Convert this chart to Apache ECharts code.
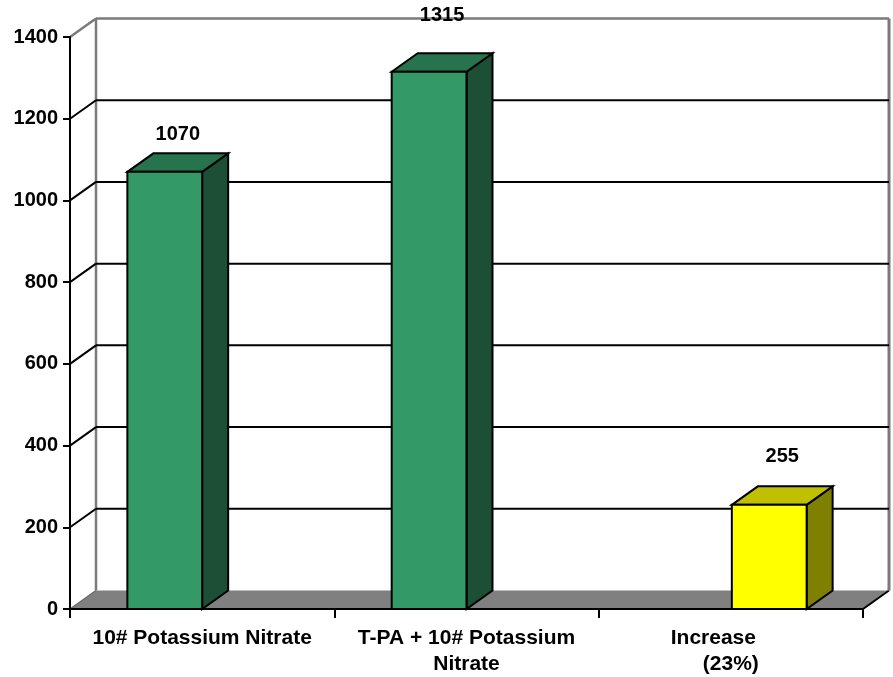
<!DOCTYPE html>
<html>
<head>
<meta charset="utf-8">
<script src="https://cdn.jsdelivr.net/npm/echarts@6/dist/echarts.min.js"></script>
<style>
html,body{margin:0;padding:0;background:#fff;}
#chart{width:893px;height:677px;}
</style>
</head>
<body>
<div id="chart"></div>
<script>
// ---------- data ----------
var categories = ['10# Potassium Nitrate', 'T-PA + 10# Potassium\nNitrate', 'Increase      \n(23%)'];
var yieldValues = [1070, 1315, null];     // green series
var increaseValues = [null, null, 255];   // yellow series
var yTicks = [0, 200, 400, 600, 800, 1000, 1200, 1400];

// ---------- layout / style ----------
var DX = 26, DY = -18.5;          // depth offset of the 3D effect (px)
var BAR_FRAC = 0.283;             // bar width as a fraction of category band
var LABEL_LIFT = [19, 38, 30];    // label distance above back top edge, per category
var FONT = '"Liberation Sans", Arial, sans-serif';

var chart = echarts.init(document.getElementById('chart'), null, {renderer: 'canvas'});

function wallItem(params, api) {
  var cs = params.coordSys;
  var x0 = cs.x, x1 = cs.x + cs.width, yT = cs.y, yB = cs.y + cs.height;
  var children = [];
  // floor
  children.push({type: 'polygon', shape: {points: [[x0, yB], [x0 + DX, yB + DY], [x1 + DX, yB + DY], [x1, yB]]},
    style: {fill: '#808080', stroke: null}});
  children.push({type: 'line', shape: {x1: x0, y1: yB, x2: x0 + DX, y2: yB + DY}, style: {stroke: '#6a6a6a', lineWidth: 1.5}});
  children.push({type: 'line', shape: {x1: x1, y1: yB, x2: x1 + DX, y2: yB + DY}, style: {stroke: '#000', lineWidth: 2}});
  // wall sides
  children.push({type: 'line', shape: {x1: x0 + DX, y1: yT + DY, x2: x0 + DX, y2: yB + DY}, style: {stroke: '#7a7a7a', lineWidth: 2.5}});
  children.push({type: 'line', shape: {x1: x1 + DX, y1: yT + DY, x2: x1 + DX, y2: yB + DY}, style: {stroke: '#7a7a7a', lineWidth: 3}});
  var maxV = yTicks[yTicks.length - 1];
  for (var i = 0; i < yTicks.length; i++) {
    var v = yTicks[i];
    if (v === 0) continue;
    var y = api.coord([0, v])[1];
    var top = v === maxV;
    var col = top ? '#7a7a7a' : '#000';
    var lw = top ? 2.5 : 2;
    children.push({type: 'line', shape: {x1: x0 + DX, y1: y + DY, x2: x1 + DX, y2: y + DY}, style: {stroke: col, lineWidth: lw}});
    children.push({type: 'line', shape: {x1: x0, y1: y, x2: x0 + DX, y2: y + DY}, style: {stroke: col, lineWidth: lw}});
  }
  return {type: 'group', children: children};
}

function barRenderer(offsetBars, colors) {
  return function (params, api) {
    var idx = api.value(0);
    var val = api.value(1);
    if (val == null || isNaN(val)) return null;
    var band = api.size([1, 0])[0];
    var center = api.coord([idx, 0])[0];
    var yBase = api.coord([idx, 0])[1];
    var yTop = api.coord([idx, val])[1];
    var w = band * BAR_FRAC;
    var xa = center + offsetBars * w + (offsetBars >= 0 ? 1 : 0);
    var xb = xa + w;
    var st = {stroke: '#000', lineWidth: 2, lineJoin: 'miter'};
    var lift = LABEL_LIFT[idx] || 25;
    return {type: 'group', children: [
      {type: 'polygon', shape: {points: [[xb, yTop], [xb + DX, yTop + DY], [xb + DX, yBase + DY], [xb, yBase]]},
        style: Object.assign({fill: colors[2]}, st)},
      {type: 'polygon', shape: {points: [[xa, yTop], [xa + DX, yTop + DY], [xb + DX, yTop + DY], [xb, yTop]]},
        style: Object.assign({fill: colors[1]}, st)},
      {type: 'rect', shape: {x: xa, y: yTop, width: w, height: yBase - yTop},
        style: Object.assign({fill: colors[0]}, st)},
      {type: 'text', x: (xa + xb + DX) / 2, y: yTop + DY - lift,
        style: {text: String(val), fill: '#000', font: 'bold 20px ' + FONT, textAlign: 'center', textVerticalAlign: 'middle'}}
    ]};
  };
}

function toData(arr) {
  return arr.map(function (v, i) { return [i, v == null ? null : v]; }).filter(function (d) { return d[1] != null; });
}

chart.setOption({
  animation: false,
  backgroundColor: '#fff',
  grid: {left: 70, right: 30, top: 37, bottom: 68, containLabel: false},
  xAxis: {
    type: 'category', data: categories, boundaryGap: true, z: 10,
    axisLine: {show: true, lineStyle: {color: '#000', width: 2}},
    axisTick: {show: true, length: 9, lineStyle: {color: '#000', width: 2}},
    axisLabel: {color: '#000', fontWeight: 'bold', fontSize: 21, fontFamily: FONT, margin: 16, lineHeight: 26, interval: 0},
    splitLine: {show: false}
  },
  yAxis: {
    type: 'value', min: 0, max: 1400, interval: 200, z: 10,
    axisLine: {show: true, lineStyle: {color: '#000', width: 2}},
    axisTick: {show: true, length: 7, lineStyle: {color: '#000', width: 2}},
    axisLabel: {color: '#000', fontWeight: 'bold', fontSize: 20, fontFamily: FONT, margin: 12,
      formatter: function (v) { return String(v); }},
    splitLine: {show: false}
  },
  series: [
    {type: 'custom', name: 'walls', z: 1, silent: true, data: [[0, 0]], renderItem: wallItem, clip: false},
    {type: 'custom', name: 'Yield', z: 2, data: toData(yieldValues), clip: false,
      renderItem: barRenderer(-1, ['#339966', '#26734d', '#1c4f36'])},
    {type: 'custom', name: 'Increase', z: 2, data: toData(increaseValues), clip: false,
      renderItem: barRenderer(0, ['#ffff00', '#c0c000', '#808000'])}
  ]
});
</script>
</body>
</html>
